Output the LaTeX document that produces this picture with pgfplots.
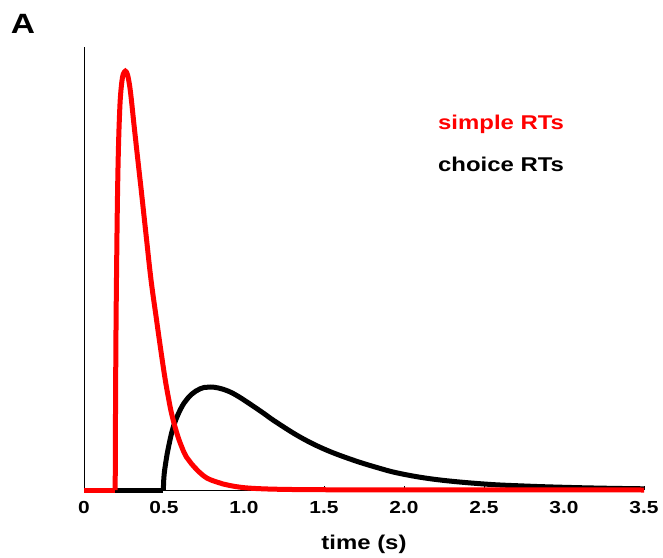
\documentclass[border=0pt]{standalone}
\usepackage{fontspec}
\setmainfont{Liberation Sans}[FakeStretch=1.2]
\usepackage{pgfplots}
\pgfplotsset{compat=1.18}
\definecolor{myred}{RGB}{255,0,0}
\begin{document}
\begin{tikzpicture}
\useasboundingbox (-84bp,-68bp) rectangle (579bp,490bp);
\begin{axis}[
  at={(0,0)}, anchor=south west,
  scale only axis, width=560bp, height=443bp,
  xmin=0, xmax=3.5, ymin=0, ymax=4.43,
  axis x line=bottom, axis y line=left,
  axis line style={-, line width=0.8pt, black},
  ytick=\empty,
  xtick={0,0.5,1,1.5,2,2.5,3,3.5},
  xticklabels={0,0.5,1.0,1.5,2.0,2.5,3.0,3.5},
  tick align=inside, major tick length=4bp,
  tick style={line width=0.6pt, black},
  xticklabel style={font=\bfseries\fontsize{17.5}{19}\selectfont, anchor=base, yshift=-23.5bp},
  xlabel={time (s)},
  xlabel style={font=\bfseries\fontsize{20}{22}\selectfont, at={(axis description cs:0.5,0)}, anchor=center, yshift=-54bp, inner sep=0pt},
  clip=false,
]
% black: choice RTs
\addplot[black, line width=5bp] coordinates {(0,0) (0.496,0)};
\addplot[black, line width=5bp, smooth, tension=0.65] coordinates {
 (0.496,0) (0.499,0.12) (0.505,0.21) (0.5125,0.29) (0.527,0.42) (0.558,0.63)
 (0.604,0.81) (0.65,0.92) (0.7,0.99) (0.75,1.025) (0.79,1.03) (0.84,1.02) (0.9,0.99)
 (0.96,0.94) (1.0375,0.86) (1.12,0.77) (1.2,0.68) (1.35,0.53) (1.5,0.41) (1.6625,0.31)
 (1.82,0.23) (1.975,0.165) (2.2,0.105) (2.5,0.06) (2.75,0.04) (3.0,0.027)
 (3.25,0.018) (3.5,0.012)};
% red: simple RTs
\addplot[myred, line width=5bp] coordinates {(0,0) (0.195,0)};
\addplot[myred, line width=5bp, smooth, tension=0.65] coordinates {
 (0.195,0) (0.197,0.8) (0.200,1.6) (0.204,2.25) (0.209,2.9) (0.215,3.4)
 (0.222,3.75) (0.229,3.96) (0.24,4.12) (0.252,4.18) (0.265,4.18) (0.278,4.11)
 (0.292,3.96) (0.314,3.63) (0.338,3.28) (0.361,2.95) (0.39,2.52) (0.419,2.1)
 (0.45,1.74) (0.479,1.41) (0.506,1.12) (0.528,0.92) (0.548,0.76) (0.58,0.57)
 (0.611,0.43) (0.64,0.33) (0.673,0.26) (0.72,0.18) (0.767,0.12) (0.82,0.085) (0.869,0.06) (0.975,0.028)
 (1.1,0.013) (1.3,0.005) (1.6,0.002) (2.0,0.001) (3.5,0)};
\node[anchor=west, inner sep=0pt, text=myred, font=\bfseries\fontsize{20}{22}\selectfont] at (axis cs:2.2125,3.66) {simple RTs};
\node[anchor=west, inner sep=0pt, text=black, font=\bfseries\fontsize{20}{22}\selectfont] at (axis cs:2.2125,3.26) {choice RTs};
\end{axis}
\node[font=\bfseries\fontsize{28}{30}\selectfont, inner sep=0pt] at (-61bp,466bp) {A};
\end{tikzpicture}
\end{document}
